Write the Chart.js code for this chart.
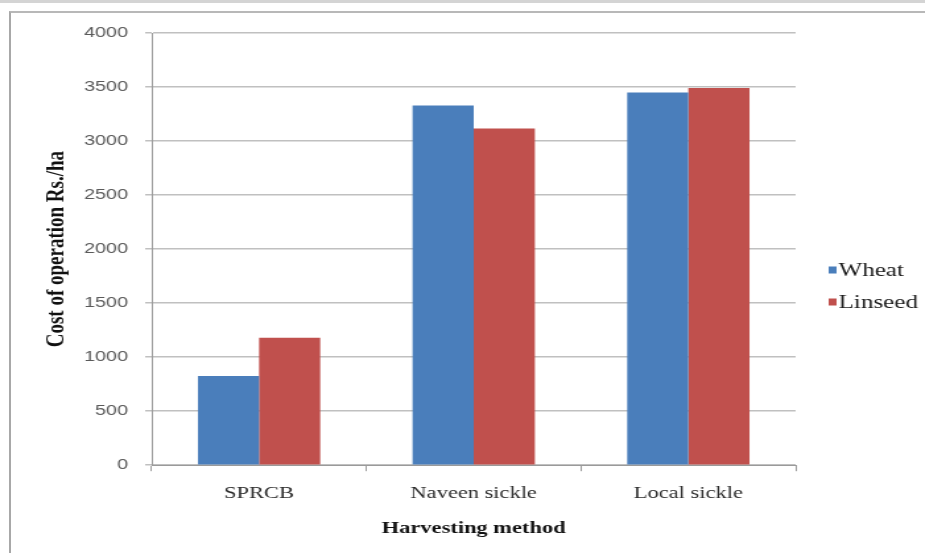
<!DOCTYPE html>
<html>
<head>
<meta charset="utf-8">
<script src="https://cdn.jsdelivr.net/npm/chart.js@4/dist/chart.umd.min.js"></script>
<style>
  html, body { margin: 0; padding: 0; background: #ffffff; }
  #wrap { position: relative; width: 925px; height: 553px; overflow: hidden; background: #fff; }
  #topstrip { position: absolute; left: 0; top: 0; width: 925px; height: 3px; background: #d4d4d4; }
  #frame { position: absolute; left: 9px; top: 11px; width: 930px; height: 560px;
           border-left: 2px solid #a8a8a8; border-top: 2px solid #b8b8b8; box-sizing: border-box; }
  /* the chart is drawn narrow and widened to the full page width */
  #chartBox { position: absolute; left: 0; top: 0; width: 701px; height: 553px;
              transform: scaleX(1.3195); transform-origin: 0 0; }
</style>
</head>
<body>
<div id="wrap">
  <div id="topstrip"></div>
  <div id="frame"></div>
  <div id="chartBox"><canvas id="c" width="701" height="553"></canvas></div>
</div>
<script>
// Harvesting cost per hectare by method
const methods = ['SPRCB', 'Naveen sickle', 'Local sickle'];
const wheatCost = [825, 3330, 3450];
const linseedCost = [1180, 3115, 3490];
const yTicks = [0, 500, 1000, 1500, 2000, 2500, 3000, 3500, 4000];

const serif = '"Liberation Serif", "Times New Roman", serif';
const sans = '"Liberation Sans", Arial, sans-serif';

// Legend at the right of the plot: small square swatch, serif label
const sideLegend = {
  id: 'sideLegend',
  afterDraw(chart) {
    const ctx = chart.ctx;
    const area = chart.chartArea;
    const x0 = area.right + 25;
    const yStart = 270;
    const step = 32;
    ctx.save();
    ctx.font = '19px ' + serif;
    ctx.textBaseline = 'middle';
    ctx.textAlign = 'left';
    chart.data.datasets.forEach((ds, i) => {
      const y = yStart + i * step;
      ctx.fillStyle = ds.backgroundColor;
      ctx.fillRect(x0, y - 3.5, 6, 7);
      ctx.fillStyle = '#1a1a1a';
      ctx.fillText(ds.label, x0 + 7.5, y + 1);
    });
    ctx.restore();
  }
};

new Chart(document.getElementById('c'), {
  type: 'bar',
  data: {
    labels: methods,
    datasets: [
      { label: 'Wheat', data: wheatCost, backgroundColor: '#4a7ebb', borderWidth: 0,
        categoryPercentage: 0.57, barPercentage: 1.0 },
      { label: 'Linseed', data: linseedCost, backgroundColor: '#c0504d', borderWidth: 0,
        categoryPercentage: 0.57, barPercentage: 1.0 }
    ]
  },
  plugins: [sideLegend],
  options: {
    responsive: false,
    animation: false,
    devicePixelRatio: 1,
    layout: { padding: { left: 32, top: 33, right: 98, bottom: 14 } },
    plugins: {
      tooltip: { enabled: false },
      legend: { display: false }
    },
    scales: {
      x: {
        grid: { display: true, drawOnChartArea: false, drawTicks: true, tickLength: 6,
                color: '#9a9a9a', offset: true },
        border: { color: '#9a9a9a', width: 1 },
        ticks: { color: '#2a2a2a', font: { family: serif, size: 17 }, padding: 12 },
        title: { display: true, text: 'Harvesting method', color: '#111',
                 font: { family: serif, size: 17, weight: 'bold' }, padding: { top: 3, bottom: 0 } }
      },
      y: {
        min: 0, max: 4000,
        afterBuildTicks: (axis) => { axis.ticks = yTicks.map(v => ({ value: v })); },
        afterFit: (axis) => { axis.width = 83; },
        grid: { color: '#c0c0c0', lineWidth: 1.5, drawTicks: true, tickLength: 5 },
        border: { color: '#9a9a9a', width: 1 },
        ticks: { color: '#5a5a5a', font: { family: sans, size: 15 }, padding: 13,
                 callback: (v) => String(v) },
        title: { display: true, text: 'Cost of operation Rs./ha', color: '#111',
                 font: { family: serif, size: 19, weight: 'bold' }, padding: { top: 0, bottom: 10 } }
      }
    }
  }
});
</script>
</body>
</html>
